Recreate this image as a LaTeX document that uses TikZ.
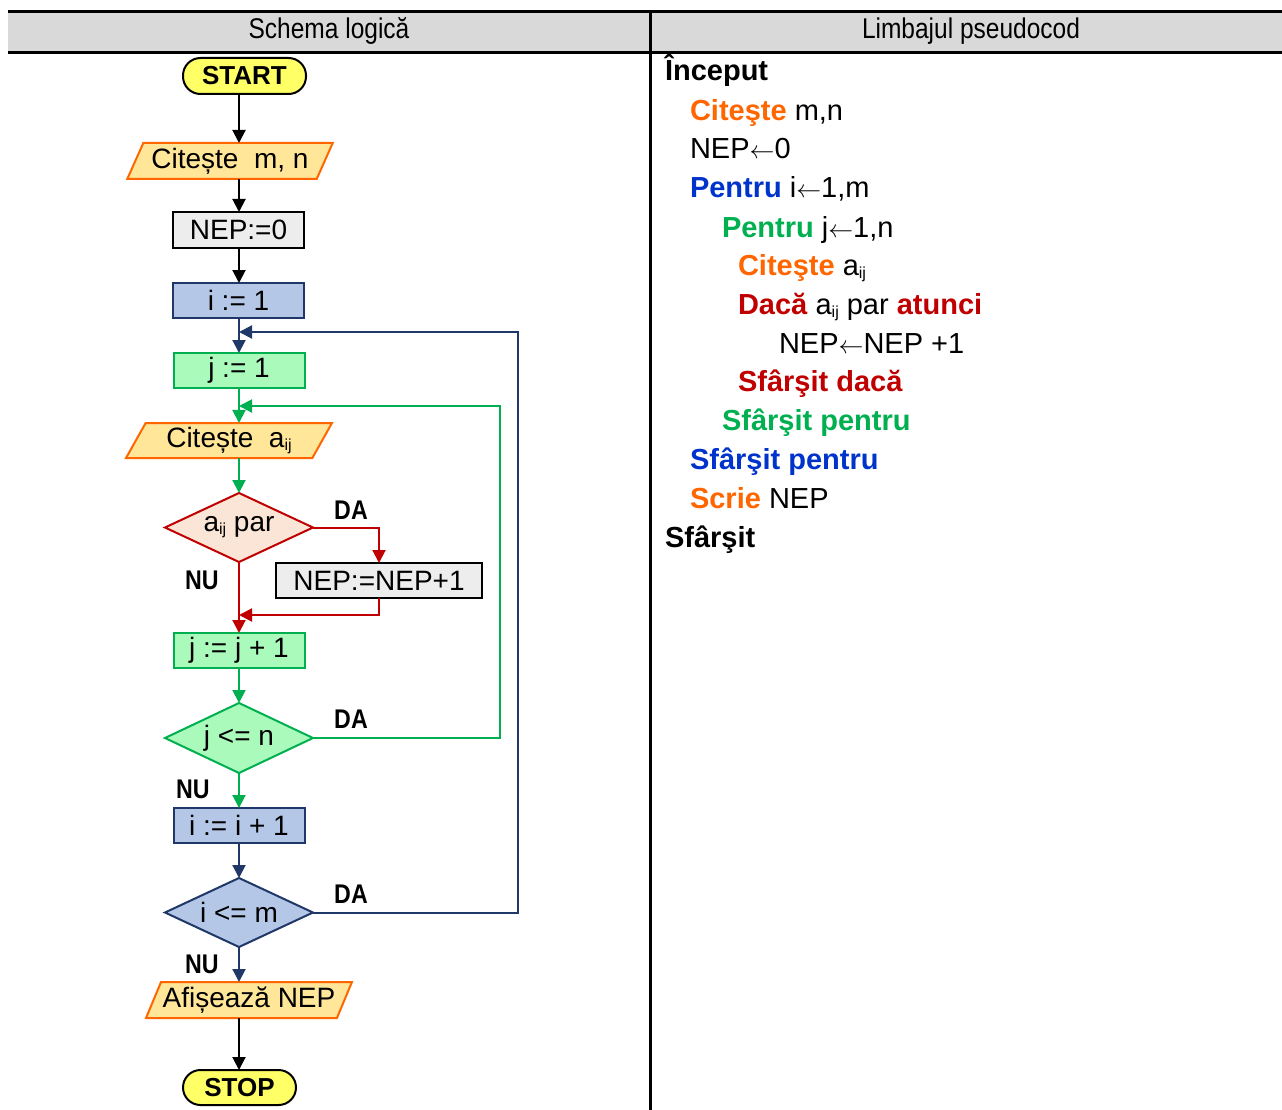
\documentclass[tikz,border=0pt]{standalone}
\usepackage{fontspec}
\setmainfont{Liberation Sans}
\newfontfamily\narrowfont[FakeStretch=0.86]{Liberation Sans}
\usetikzlibrary{shapes.geometric,arrows.meta}

\definecolor{headgray}{HTML}{D9D9D9}
\definecolor{termfill}{HTML}{FFFF66}
\definecolor{iofill}{HTML}{FFE699}
\definecolor{ioline}{HTML}{FF6600}
\definecolor{opfill}{HTML}{EDEDED}
\definecolor{bluefill}{HTML}{B4C7E7}
\definecolor{navy}{HTML}{1F3868}
\definecolor{greenfill}{HTML}{AAFABB}
\definecolor{greenline}{HTML}{00B050}
\definecolor{redfill}{HTML}{FBE5D6}
\definecolor{redline}{HTML}{C00000}
\definecolor{kwblue}{HTML}{0033CC}
\definecolor{kworange}{HTML}{FF6600}

\newcommand\subij{\raisebox{-3pt}{\fontsize{16}{16}\selectfont ij}}
\newcommand\assign{$\leftarrow$}
\newcommand\flowfont{\fontsize{28}{30}\selectfont}
\newcommand\codefont{\fontsize{29}{31}\selectfont}

\begin{document}
\begin{tikzpicture}[x=1pt,y=-1pt,
  every node/.style={inner sep=0pt, outer sep=0pt},
  boxbase/.style={draw, line width=2pt, font=\flowfont},
  terminal/.style={boxbase, fill=termfill, draw=black, rounded corners=17.5pt,
    minimum height=36pt, font=\fontsize{26}{28}\selectfont\bfseries},
  iobox/.style={boxbase, fill=iofill, draw=ioline, trapezium, trapezium left angle=61,
    trapezium right angle=119, trapezium stretches=true,
    minimum width=206pt, minimum height=36pt},
  opbox/.style={boxbase, fill=opfill, draw=black, minimum height=36pt},
  bluebox/.style={boxbase, fill=bluefill, draw=navy, minimum width=131pt, minimum height=35pt},
  greenbox/.style={boxbase, fill=greenfill, draw=greenline, minimum width=131pt, minimum height=35pt},
  decision/.style={boxbase, diamond, minimum width=148pt, minimum height=69pt, aspect=2.14},
  flow/.style={line width=2pt, -{Triangle[length=13pt,width=13pt]}},
  branch/.style={font=\narrowfont\fontsize{27}{29}\selectfont\bfseries},
  code/.style={anchor=base west, font=\codefont},
  header/.style={font=\narrowfont\fontsize{28.5}{30}\selectfont}
]
\useasboundingbox (0,0) rectangle (1282,1110);

% table frame
\fill[headgray] (8,11.5) rectangle (1282,52.5);
\draw[line width=3pt] (8,11.5) -- (1282,11.5);
\draw[line width=3pt] (8,52.5) -- (1282,52.5);
\draw[line width=3pt] (650,10) -- (650,1110);
\node[header] (h1) at (329,31) {Schema logică};
\node[header] (h2) at (971,31) {Limbajul pseudocod};

% flowchart
\coordinate (spine) at (239,0);
\node[terminal, minimum width=123pt] (start) at (244.5,76) {START};
\node[iobox] (citmn) at (230,161) {Citește~~m, n};
\node[opbox, minimum width=131pt] (nep0) at (238.5,230) {NEP:=0};
\node[bluebox] (i1) at (238.5,300.5) {i := 1};
\node[greenbox] (j1) at (239,370.5) {j := 1};
\node[iobox, minimum height=35pt] (citaij) at (229,440.5) {Citește~~a\subij};
\node[decision, fill=redfill, draw=redline] (par) at (239,527.5) {a\subij{} par};
\node[opbox, minimum width=206pt, minimum height=35pt] (nepinc) at (379,580.5) {NEP:=NEP+1};
\node[greenbox] (jinc) at (239,650.5) {j := j + 1};
\node[decision, fill=greenfill, draw=greenline, minimum height=70pt] (jle) at (239,738) {j <= n};
\node[bluebox] (iinc) at (239,825.5) {i := i + 1};
\node[decision, fill=bluefill, draw=navy] (ile) at (239,912.5) {i <= m};
\node[iobox] (afis) at (249,1000) {Afișează NEP};
\node[terminal, minimum width=113pt, minimum height=35pt] (stop) at (239.5,1087.5) {STOP};

% merge points of the loops
\coordinate (bluejoin) at (239,332);
\coordinate (blueturn) at (518,332);
\coordinate (greenjoin) at (239,406);
\coordinate (greenturn) at (500,406);
\coordinate (redjoin) at (239,615);

% connectors
\draw[flow] (start.south -| spine) -- (citmn.north -| spine);
\draw[flow] (citmn.south -| spine) -- (nep0.north -| spine);
\draw[flow] (nep0.south -| spine) -- (i1.north -| spine);
\draw[flow, navy] (i1.south -| spine) -- (j1.north -| spine);
\draw[flow, navy] (ile.east) -| (blueturn) -- (bluejoin);
\draw[flow, greenline] (j1.south -| spine) -- (citaij.north -| spine);
\draw[flow, greenline] (jle.east) -| (greenturn) -- (greenjoin);
\draw[flow, greenline] (citaij.south -| spine) -- (par.north);
\draw[flow, redline] (par.east) -| (nepinc.north);
\draw[flow, redline] (nepinc.south) |- (redjoin);
\draw[flow, redline] (par.south) -- (jinc.north -| spine);
\draw[flow, greenline] (jinc.south -| spine) -- (jle.north);
\draw[flow, greenline] (jle.south) -- (iinc.north -| spine);
\draw[flow, navy] (iinc.south -| spine) -- (ile.north);
\draw[flow, navy] (ile.south) -- (afis.north -| spine);
\draw[flow] (afis.south -| spine) -- (stop.north -| spine);

% branch labels
\node[branch] (da1) at (351,510) {DA};
\node[branch] (nu1) at (202,580) {NU};
\node[branch] (da2) at (351,719) {DA};
\node[branch] (nu2) at (193,789) {NU};
\node[branch] (da3) at (351,894) {DA};
\node[branch] (nu3) at (202,964) {NU};

% pseudocode
\node[code] (p1) at (665,81) {\textbf{Început}};
\node[code] (p2) at (690,121) {\textcolor{kworange}{\textbf{Citeşte}} m,n};
\node[code] (p3) at (690,159) {NEP\assign 0};
\node[code] (p4) at (690,198) {\textcolor{kwblue}{\textbf{Pentru}} i\assign 1,m};
\node[code] (p5) at (722,237) {\textcolor{greenline}{\textbf{Pentru}} j\assign 1,n};
\node[code] (p6) at (738,275) {\textcolor{kworange}{\textbf{Citeşte}} a\subij};
\node[code] (p7) at (738,314) {\textcolor{redline}{\textbf{Dacă}} a\subij{} par \textcolor{redline}{\textbf{atunci}}};
\node[code] (p8) at (779,353) {NEP\assign NEP +1};
\node[code] (p9) at (738,391) {\textcolor{redline}{\textbf{Sfârşit dacă}}};
\node[code] (p10) at (722,430) {\textcolor{greenline}{\textbf{Sfârşit pentru}}};
\node[code] (p11) at (690,469) {\textcolor{kwblue}{\textbf{Sfârşit pentru}}};
\node[code] (p12) at (690,508) {\textcolor{kworange}{\textbf{Scrie}} NEP};
\node[code] (p13) at (665,547) {\textbf{Sfârşit}};
\end{tikzpicture}
\end{document}
